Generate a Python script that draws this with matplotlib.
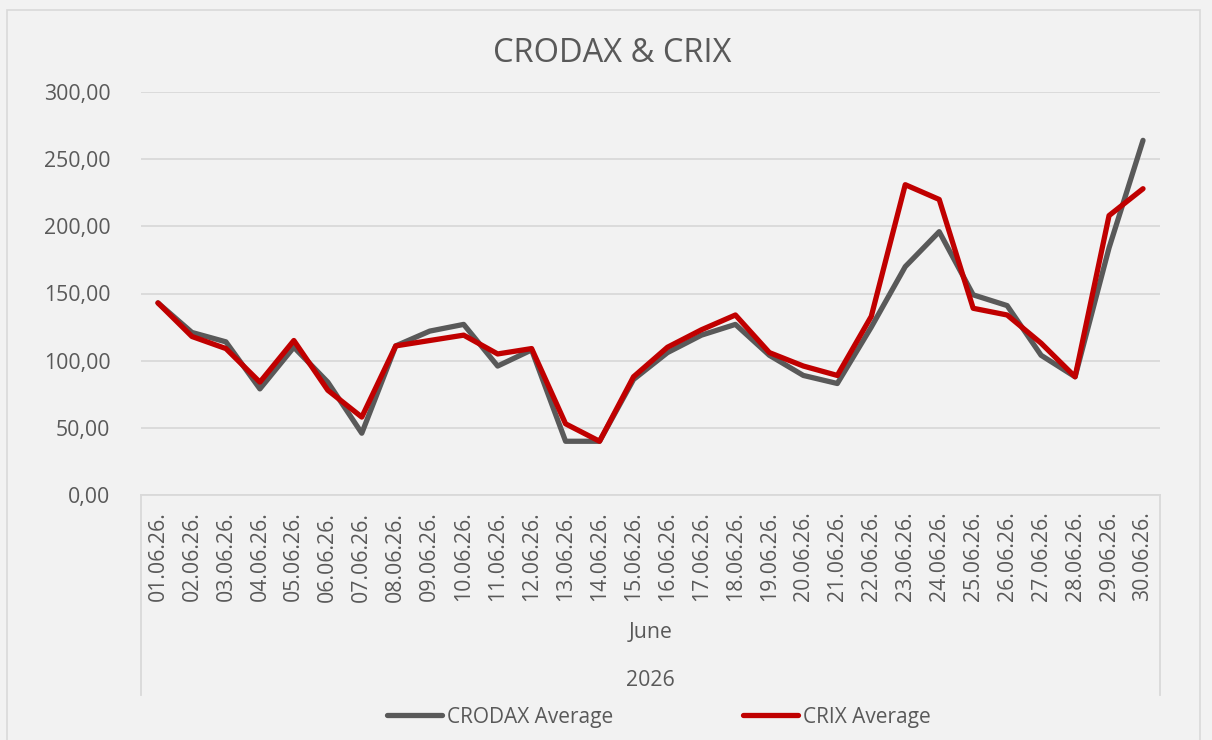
import matplotlib
matplotlib.use("Agg")
import matplotlib.pyplot as plt
from matplotlib.lines import Line2D
from matplotlib.patches import Rectangle

plt.rcParams['font.family'] = ['Open Sans', 'DejaVu Sans']

dates = ["01.06.26.", "02.06.26.", "03.06.26.", "04.06.26.", "05.06.26.", "06.06.26.",
         "07.06.26.", "08.06.26.", "09.06.26.", "10.06.26.", "11.06.26.", "12.06.26.",
         "13.06.26.", "14.06.26.", "15.06.26.", "16.06.26.", "17.06.26.", "18.06.26.",
         "19.06.26.", "20.06.26.", "21.06.26.", "22.06.26.", "23.06.26.", "24.06.26.",
         "25.06.26.", "26.06.26.", "27.06.26.", "28.06.26.", "29.06.26.", "30.06.26."]
crodax = [143, 121, 114, 79, 110, 84, 46, 111, 122, 127, 96, 108, 40, 40, 86, 106,
          119, 127, 104, 89, 83, 125, 170, 196, 149, 141, 104, 88, 184, 264]
crix = [143, 118, 109, 84, 115, 78, 58, 111, 115, 119, 105, 109, 53, 40, 88, 110,
        123, 134, 106, 96, 89, 133, 231, 220, 139, 134, 113, 88, 208, 228]
month_label = "June"
year_label = "2026"
yticks = [0, 50, 100, 150, 200, 250, 300]

W, H = 1212, 740
fig = plt.figure(figsize=(W / 100, H / 100), dpi=100)
fig.patch.set_facecolor("#f2f2f2")

# chart border
fig.add_artist(Rectangle((7 / W, -0.05), (1200 - 7) / W, (H - 10) / H + 0.05,
                         transform=fig.transFigure, fill=False,
                         edgecolor="#d9d9d9", lw=1.2))

left, right, top, bottom = 141, 1160, 92, 495
ax = fig.add_axes([left / W, 1 - bottom / H, (right - left) / W, (bottom - top) / H])
ax.set_facecolor("none")

x = list(range(len(dates)))
ax.plot(x, crodax, color="#595959", lw=3.8, solid_capstyle="round", solid_joinstyle="round",
        label="CRODAX Average", zorder=3)
ax.plot(x, crix, color="#c00000", lw=3.8, solid_capstyle="round", solid_joinstyle="round",
        label="CRIX Average", zorder=4)

ax.set_xlim(-0.5, len(dates) - 0.5)
ax.set_ylim(0, 300)
ax.set_yticks(yticks)
ax.set_yticklabels([f"{v:.2f}".replace(".", ",") for v in yticks])
ax.set_xticks(x)
ax.set_xticklabels(dates, rotation=90, va="top", ha="center")
ax.tick_params(axis="both", length=0, colors="#595959", labelsize=15.3)
ax.tick_params(axis="y", pad=22)
ax.tick_params(axis="x", pad=12)
ax.grid(axis="y", color="#d9d9d9", lw=1.3)
ax.set_axisbelow(True)
for s in ["top", "right", "left"]:
    ax.spines[s].set_visible(False)
ax.spines["bottom"].set_color("#d9d9d9")
ax.spines["bottom"].set_linewidth(1.3)

# multi-level category separators
for xp in (left, right):
    fig.add_artist(Line2D([xp / W, xp / W], [1 - bottom / H, 1 - 695 / H],
                          transform=fig.transFigure, color="#d9d9d9", lw=1.3))
fig.text((left + right) / 2 / W, 1 - 633 / H, month_label, ha="center", va="center",
         fontsize=15.3, color="#595959")
fig.text((left + right) / 2 / W, 1 - 681 / H, year_label, ha="center", va="center",
         fontsize=15.3, color="#595959")

fig.text(612 / W, 1 - 53 / H, "CRODAX & CRIX", ha="center", va="center",
         fontsize=23.5, color="#595959")

leg = fig.legend(loc="center", bbox_to_anchor=(659 / W, 1 - 717 / H), ncol=2,
                 frameon=False, fontsize=15, handlelength=2.65, handletextpad=0.25,
                 columnspacing=6.2)
for t in leg.get_texts():
    t.set_color("#595959")
for l in leg.get_lines():
    l.set_linewidth(3.8)

fig.savefig("out.png", dpi=100, facecolor=fig.get_facecolor())
